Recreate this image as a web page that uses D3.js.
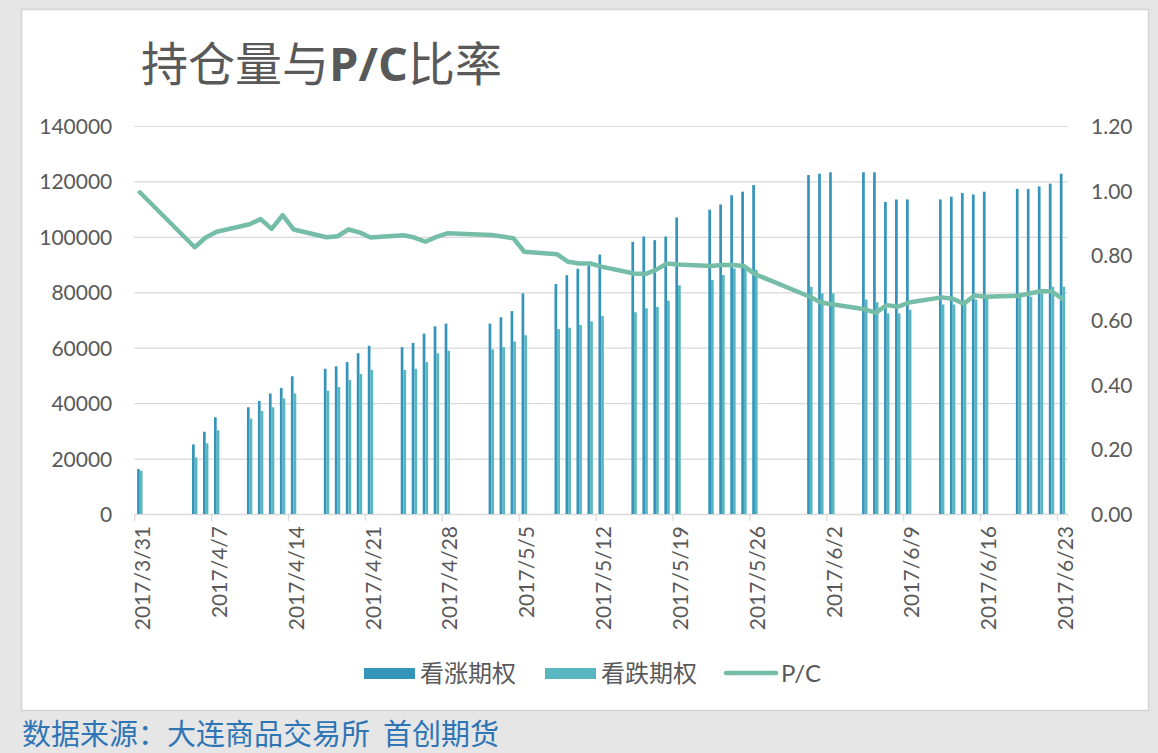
<!DOCTYPE html>
<html>
<head>
<meta charset="utf-8">
<script src="https://cdn.jsdelivr.net/npm/d3@7"></script>
<style>
  html, body { margin: 0; padding: 0; background: #e6e6e6; }
  svg { display: block; }
  .ax text { font-family: Lato, "Noto Sans CJK SC", sans-serif; font-size: 21px; fill: #595959; }
</style>
</head>
<body>
<svg id="chart" width="1158" height="753"></svg>
<script>
// trading days shown in the chart
var dates = [
  "2017-03-31",
  "2017-04-05","2017-04-06","2017-04-07",
  "2017-04-10","2017-04-11","2017-04-12","2017-04-13","2017-04-14",
  "2017-04-17","2017-04-18","2017-04-19","2017-04-20","2017-04-21",
  "2017-04-24","2017-04-25","2017-04-26","2017-04-27","2017-04-28",
  "2017-05-02","2017-05-03","2017-05-04","2017-05-05",
  "2017-05-08","2017-05-09","2017-05-10","2017-05-11","2017-05-12",
  "2017-05-15","2017-05-16","2017-05-17","2017-05-18","2017-05-19",
  "2017-05-22","2017-05-23","2017-05-24","2017-05-25","2017-05-26",
  "2017-05-31","2017-06-01","2017-06-02",
  "2017-06-05","2017-06-06","2017-06-07","2017-06-08","2017-06-09",
  "2017-06-12","2017-06-13","2017-06-14","2017-06-15","2017-06-16",
  "2017-06-19","2017-06-20","2017-06-21","2017-06-22","2017-06-23"
];
// 看涨期权 open interest
var calls = [
  16200,
  25100, 29700, 34900,
  38500, 40800, 43500, 45500, 49700,
  52400, 53300, 54800, 58000, 60700,
  60200, 61700, 65100, 67700, 68700,
  68700, 71000, 73200, 79600,
  83000, 86200, 88500, 89700, 93600,
  98200, 100100, 98800, 100100, 107000,
  109800, 111700, 115000, 116300, 118700,
  122300, 122800, 123300,
  123300, 123300, 112600, 113500, 113500,
  113500, 114500, 115800, 115300, 116300,
  117300, 117300, 118200, 119200, 122800
];
// 看跌期权 open interest
var puts = [
  15600,
  20400, 25500, 30200,
  34400, 37200, 38500, 41700, 43500,
  44500, 45800, 48300, 50500, 52000,
  52000, 52400, 54800, 58000, 58900,
  59400, 60200, 62200, 64500,
  66700, 67200, 68200, 69500, 71400,
  72800, 74200, 74700, 77000, 82500,
  84400, 86200, 88600, 89000, 88000,
  82000, 79600, 79600,
  77400, 76400, 72400, 72400, 73700,
  75600, 75600, 77000, 77400, 78400,
  78400, 78400, 79600, 82000, 82000
];
// P/C ratio
var pcRatio = [
  0.995,
  0.825, 0.855, 0.873,
  0.896, 0.912, 0.882, 0.924, 0.880,
  0.856, 0.859, 0.880, 0.871, 0.855,
  0.862, 0.855, 0.842, 0.857, 0.868,
  0.863, 0.858, 0.853, 0.811,
  0.803, 0.780, 0.775, 0.775, 0.765,
  0.744, 0.742, 0.755, 0.775, 0.772,
  0.767, 0.770, 0.770, 0.767, 0.742,
  0.672, 0.654, 0.649,
  0.633, 0.623, 0.646, 0.641, 0.654,
  0.670, 0.666, 0.650, 0.676, 0.672,
  0.675, 0.682, 0.689, 0.689, 0.665
];
var leftTicks = [0, 20000, 40000, 60000, 80000, 100000, 120000, 140000];
var rightTicks = [0, 0.2, 0.4, 0.6, 0.8, 1.0, 1.2];
var tickDates = ["2017-03-31","2017-04-07","2017-04-14","2017-04-21","2017-04-28","2017-05-05",
  "2017-05-12","2017-05-19","2017-05-26","2017-06-02","2017-06-09","2017-06-16","2017-06-23"];
var seriesNames = ["看涨期权", "看跌期权", "P/C"];

var colCall = "#3494ba", colPut = "#58b6c0", colLine = "#75bda7", textCol = "#595959";

var parse = d3.utcParse("%Y-%m-%d");
var data = dates.map(function(d, i) {
  return {date: parse(d), call: calls[i], put: puts[i], pc: pcRatio[i]};
});

var plot = {left: 134.3, right: 1068, top: 126, bottom: 514};

var svg = d3.select("#chart");

// panel
svg.append("rect").attr("x", 0).attr("y", 0).attr("width", 1158).attr("height", 753).attr("fill", "#e6e6e6");
svg.append("rect").attr("x", 21.5).attr("y", 9.5).attr("width", 1127).attr("height", 701)
  .attr("fill", "#fff").attr("stroke", "#d4d4d4").attr("stroke-width", 1.5);

// scales: one category per calendar day
var x = d3.scaleUtc()
  .domain([parse("2017-03-31"), d3.utcDay.offset(parse("2017-06-23"), 1)])
  .range([plot.left, plot.right]);
var dayW = x(d3.utcDay.offset(parse("2017-03-31"), 1)) - x(parse("2017-03-31"));
function cx(d) { return x(d) + dayW / 2; }

var y = d3.scaleLinear().domain([0, 140000]).range([plot.bottom, plot.top]);
var y2 = d3.scaleLinear().domain([0, 1.2]).range([plot.bottom, plot.top]);

// gridlines + left axis
var gy = svg.append("g").attr("class", "ax")
  .attr("transform", "translate(" + plot.left + ",0)")
  .call(d3.axisLeft(y).tickValues(leftTicks).tickSize(-(plot.right - plot.left)).tickPadding(22).tickFormat(d3.format("d")));
gy.select(".domain").remove();
gy.selectAll(".tick line").attr("stroke", "#d9d9d9").attr("stroke-width", 1.2);
gy.selectAll(".tick text").attr("dy", "0.36em");

// right axis
var gr = svg.append("g").attr("class", "ax")
  .attr("transform", "translate(" + plot.right + ",0)")
  .call(d3.axisRight(y2).tickValues(rightTicks).tickSize(0).tickPadding(23).tickFormat(d3.format(".2f")));
gr.select(".domain").remove();
gr.selectAll(".tick text").attr("dy", "0.36em");

// x axis
var gx = svg.append("g").attr("class", "ax")
  .attr("transform", "translate(0," + plot.bottom + ")")
  .call(d3.axisBottom(x).tickValues(tickDates.map(parse)).tickSize(7).tickSizeOuter(0)
    .tickFormat(function(d) { return d.getUTCFullYear() + "/" + (d.getUTCMonth() + 1) + "/" + d.getUTCDate(); }));
gx.select(".domain").attr("stroke", "#d9d9d9").attr("stroke-width", 1.5);
gx.selectAll(".tick line").attr("stroke", "#d9d9d9").attr("stroke-width", 1.2);
gx.selectAll(".tick text")
  .attr("transform", "translate(" + (dayW / 2 + 2) + ",12) rotate(-90)")
  .attr("text-anchor", "end")
  .attr("x", 0).attr("y", 0).attr("dy", "0.36em");

// bars
var bw = 2.7;
var bars = svg.append("g");
bars.selectAll(".call").data(data).enter().append("rect")
  .attr("class", "call")
  .attr("x", function(d) { return cx(d.date) - bw; })
  .attr("width", bw)
  .attr("y", function(d) { return y(d.call); })
  .attr("height", function(d) { return y(0) - y(d.call); })
  .attr("fill", colCall);
bars.selectAll(".put").data(data).enter().append("rect")
  .attr("class", "put")
  .attr("x", function(d) { return cx(d.date); })
  .attr("width", bw)
  .attr("y", function(d) { return y(d.put); })
  .attr("height", function(d) { return y(0) - y(d.put); })
  .attr("fill", colPut);

// P/C line
var line = d3.line()
  .x(function(d) { return cx(d.date); })
  .y(function(d) { return y2(d.pc); });
svg.append("path").datum(data)
  .attr("d", line)
  .attr("fill", "none")
  .attr("stroke", colLine)
  .attr("stroke-width", 4.5)
  .attr("stroke-linejoin", "round")
  .attr("stroke-linecap", "round");

// title
var title = svg.append("text")
  .attr("x", 141).attr("y", 81)
  .attr("fill", textCol)
  .style("font-family", "'Noto Sans CJK SC', sans-serif")
  .style("font-size", "47px");
title.append("tspan").text("持仓量与");
title.append("tspan").style("font-weight", "bold").style("font-family", "'Open Sans', sans-serif").text("P/C");
title.append("tspan").text("比率");

// legend
var legend = svg.append("g")
  .style("font-family", "'Noto Sans CJK SC', sans-serif")
  .style("font-size", "24px");
var legX = [364, 545, 725];
legend.append("rect").attr("x", legX[0]).attr("y", 668).attr("width", 51).attr("height", 11).attr("fill", colCall);
legend.append("rect").attr("x", legX[1]).attr("y", 668).attr("width", 51).attr("height", 11).attr("fill", colPut);
legend.append("line").attr("x1", legX[2] + 1).attr("x2", legX[2] + 51).attr("y1", 673).attr("y2", 673)
  .attr("stroke", colLine).attr("stroke-width", 4.5).attr("stroke-linecap", "round");
seriesNames.forEach(function(n, i) {
  legend.append("text")
    .attr("x", legX[i] + 56).attr("y", 673).attr("dy", "0.36em")
    .attr("fill", textCol)
    .style("font-family", i === 2 ? "Lato, sans-serif" : null)
    .text(n);
});

// source note
svg.append("text")
  .attr("x", 22).attr("y", 745)
  .attr("fill", "#2e75b6")
  .style("font-family", "'Noto Sans CJK SC', sans-serif")
  .style("font-size", "29px")
  .style("white-space", "pre")
  .text("数据来源：大连商品交易所  首创期货");
</script>
</body>
</html>
